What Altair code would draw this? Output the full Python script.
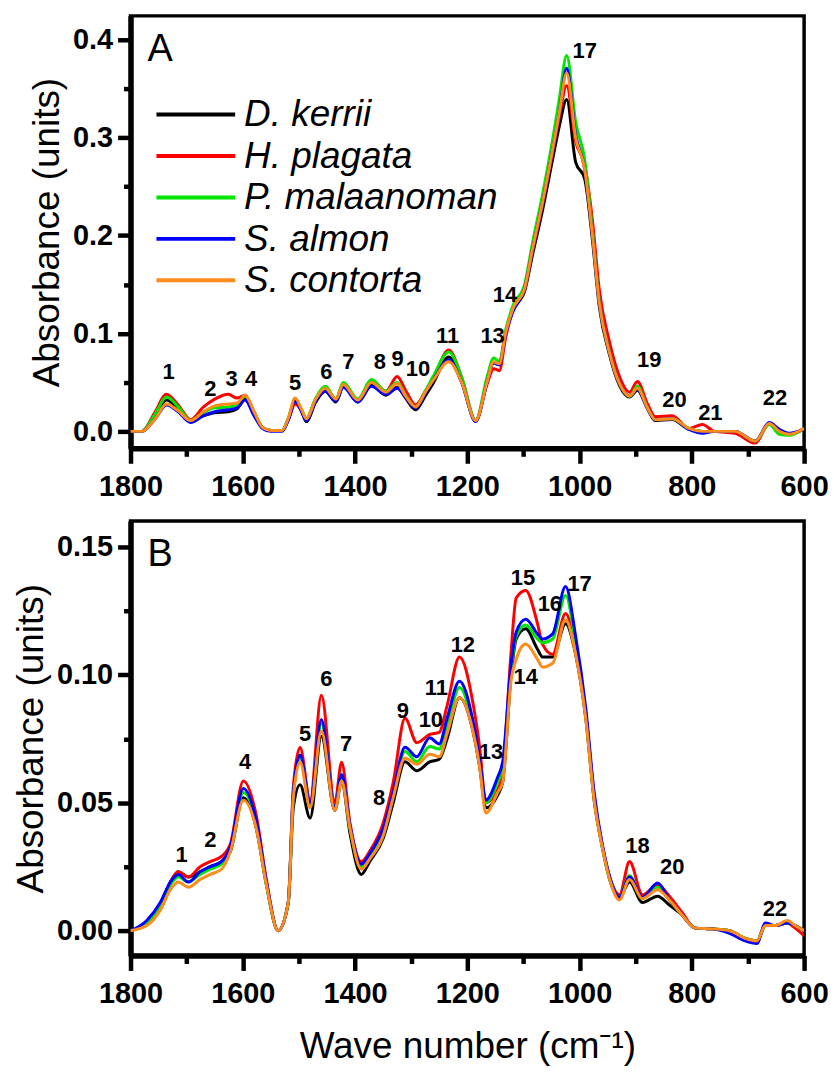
import altair as alt
import pandas as pd

# ---- species and colours -------------------------------------------------
species = ["D. kerrii", "H. plagata", "P. malaanoman", "S. almon", "S. contorta"]
colors = ["#000000", "#ff0000", "#00e600", "#0000ff", "#ff8c1a"]

# ---- panel A: spectra (wave number, absorbance) ----------------------------
wn_a = [1800, 1780, 1756, 1736, 1715, 1693, 1670, 1650, 1626, 1610, 1596, 1580, 1565,
        1550, 1530, 1518, 1507, 1495, 1487, 1470, 1453, 1434, 1421, 1395, 1371, 1345,
        1325, 1310, 1292, 1275, 1261, 1233, 1210, 1185, 1165, 1153, 1143, 1132, 1119,
        1098, 1084, 1066, 1048, 1036, 1023, 1007, 991, 977, 965, 947, 929, 911, 897,
        879, 865, 835, 805, 781, 760, 723, 687, 662, 644, 627, 600]

a_kerrii = [0.000, 0.000, 0.015, 0.032, 0.023, 0.011, 0.016, 0.019, 0.020, 0.023, 0.034,
            0.019, 0.004, 0.001, 0.001, 0.014, 0.031, 0.020, 0.010, 0.030, 0.041, 0.030,
            0.046, 0.030, 0.047, 0.037, 0.045, 0.034, 0.022, 0.036, 0.049, 0.076, 0.050,
            0.011, 0.050, 0.070, 0.068, 0.100, 0.124, 0.143, 0.180, 0.226, 0.278, 0.312,
            0.339, 0.275, 0.258, 0.195, 0.128, 0.079, 0.047, 0.035, 0.042, 0.023, 0.011,
            0.012, 0.002, 0.000, 0.000, 0.000, -0.010, 0.008, 0.000, -0.003, 0.003]
a_plagata = [0.000, 0.000, 0.020, 0.038, 0.027, 0.012, 0.025, 0.033, 0.038, 0.034, 0.037,
             0.020, 0.004, 0.001, 0.001, 0.013, 0.028, 0.021, 0.013, 0.033, 0.045, 0.033,
             0.049, 0.032, 0.052, 0.041, 0.056, 0.042, 0.027, 0.041, 0.054, 0.083, 0.055,
             0.011, 0.048, 0.064, 0.062, 0.095, 0.124, 0.145, 0.184, 0.232, 0.286, 0.322,
             0.353, 0.296, 0.272, 0.215, 0.145, 0.092, 0.056, 0.040, 0.051, 0.028, 0.015,
             0.016, 0.003, 0.007, 0.000, -0.002, -0.012, 0.008, 0.000, -0.003, 0.003]
a_malaanoman = [0.000, 0.000, 0.018, 0.035, 0.025, 0.011, 0.019, 0.024, 0.025, 0.027, 0.036,
                0.020, 0.004, 0.001, 0.001, 0.015, 0.033, 0.022, 0.013, 0.034, 0.046, 0.033,
                0.050, 0.033, 0.053, 0.041, 0.050, 0.037, 0.025, 0.041, 0.056, 0.081, 0.055,
                0.011, 0.055, 0.075, 0.071, 0.103, 0.128, 0.150, 0.192, 0.242, 0.298, 0.340,
                0.384, 0.316, 0.278, 0.205, 0.133, 0.082, 0.049, 0.036, 0.046, 0.024, 0.012,
                0.013, 0.003, 0.000, 0.000, 0.000, -0.010, 0.007, -0.003, -0.004, 0.003]
a_almon = [0.000, 0.000, 0.013, 0.027, 0.020, 0.009, 0.016, 0.020, 0.022, 0.024, 0.032,
           0.016, 0.003, 0.000, 0.000, 0.013, 0.031, 0.020, 0.011, 0.031, 0.041, 0.031,
           0.045, 0.030, 0.046, 0.038, 0.044, 0.035, 0.024, 0.039, 0.052, 0.073, 0.050,
           0.010, 0.050, 0.070, 0.068, 0.099, 0.122, 0.146, 0.186, 0.234, 0.288, 0.326,
           0.371, 0.303, 0.268, 0.200, 0.132, 0.081, 0.049, 0.036, 0.043, 0.024, 0.012,
           0.013, 0.002, -0.002, 0.000, 0.000, -0.010, 0.009, 0.002, -0.002, 0.002]
a_contorta = [0.000, 0.000, 0.013, 0.028, 0.021, 0.011, 0.020, 0.026, 0.028, 0.029, 0.037,
              0.020, 0.004, 0.001, 0.001, 0.015, 0.034, 0.022, 0.013, 0.033, 0.044, 0.033,
              0.048, 0.032, 0.050, 0.040, 0.049, 0.036, 0.025, 0.040, 0.052, 0.071, 0.050,
              0.011, 0.050, 0.071, 0.069, 0.100, 0.125, 0.146, 0.186, 0.234, 0.288, 0.326,
              0.366, 0.300, 0.268, 0.200, 0.132, 0.081, 0.049, 0.036, 0.044, 0.024, 0.012,
              0.013, 0.003, 0.000, 0.000, 0.000, -0.010, 0.008, 0.000, -0.003, 0.003]

# band numbers of panel A (wave number, absorbance at which the number sits)
band_a = ["1", "2", "3", "4", "5", "6", "7", "8", "9", "10", "11", "13", "14", "17",
          "19", "20", "21", "22"]
band_a_wn = [1732, 1658, 1620, 1585, 1507, 1451, 1412, 1356, 1324, 1288, 1235, 1155,
             1133, 991, 876, 831, 767, 652]
band_a_y = [0.061, 0.043, 0.053, 0.053, 0.049, 0.061, 0.071, 0.071, 0.074, 0.064, 0.097,
            0.097, 0.139, 0.389, 0.073, 0.032, 0.019, 0.034]

# ---- panel B: spectra -------------------------------------------------------
wn_b = [1800, 1771, 1747, 1729, 1715, 1697, 1676, 1658, 1638, 1622, 1599, 1576, 1558,
        1537, 1519, 1510, 1498, 1480, 1460, 1436, 1424, 1409, 1389, 1374, 1350, 1332,
        1311, 1290, 1267, 1250, 1236, 1214, 1190, 1178, 1167, 1146, 1137, 1122, 1113,
        1096, 1075, 1066, 1048, 1025, 1007, 989, 974, 959, 945, 929, 911, 888, 861,
        840, 817, 794, 764, 733, 705, 684, 669, 651, 630, 616, 600]

b_kerrii = [0.000, 0.003, 0.010, 0.019, 0.023, 0.021, 0.023, 0.025, 0.027, 0.031,
            0.052, 0.040, 0.018, 0.000, 0.011, 0.048, 0.057, 0.044, 0.076, 0.047,
            0.0585, 0.038, 0.022, 0.027, 0.036, 0.050, 0.066, 0.0625, 0.066, 0.067,
            0.075, 0.091, 0.078, 0.064, 0.048, 0.053, 0.058, 0.100, 0.114, 0.118,
            0.110, 0.107, 0.107, 0.120, 0.108, 0.083, 0.051, 0.032, 0.019, 0.013,
            0.019, 0.011, 0.0135, 0.010, 0.006, 0.001, 0.0007, 0.000, -0.003, -0.004,
            0.002, 0.002, 0.003, 0.002, 0.000]
b_plagata = [0.000, 0.003, 0.010, 0.019, 0.023, 0.021, 0.025, 0.027, 0.029, 0.034,
             0.0585, 0.045, 0.020, 0.000, 0.011, 0.056, 0.0716, 0.051, 0.092, 0.050,
             0.0658, 0.042, 0.027, 0.031, 0.042, 0.058, 0.083, 0.0735, 0.0767, 0.0775,
             0.088, 0.107, 0.089, 0.0716, 0.050, 0.055, 0.062, 0.109, 0.130, 0.133,
             0.120, 0.112, 0.108, 0.124, 0.110, 0.085, 0.052, 0.033, 0.020, 0.014,
             0.027, 0.014, 0.018, 0.0135, 0.007, 0.001, 0.0007, 0.000, -0.003, -0.004,
             0.002, 0.002, 0.003, 0.001, -0.002]
b_malaanoman = [0.000, 0.003, 0.010, 0.018, 0.021, 0.019, 0.022, 0.024, 0.026, 0.032,
                0.054, 0.042, 0.018, 0.000, 0.011, 0.053, 0.068, 0.049, 0.081, 0.048,
                0.060, 0.040, 0.025, 0.029, 0.038, 0.053, 0.070, 0.066, 0.072, 0.071,
                0.080, 0.095, 0.080, 0.066, 0.050, 0.058, 0.064, 0.102, 0.115, 0.1195,
                0.114, 0.1125, 0.114, 0.131, 0.112, 0.084, 0.052, 0.032, 0.019, 0.013,
                0.0215, 0.0125, 0.017, 0.012, 0.006, 0.001, 0.0007, 0.000, -0.003, -0.004,
                0.002, 0.002, 0.003, 0.002, 0.000]
b_almon = [0.000, 0.004, 0.011, 0.019, 0.022, 0.019, 0.023, 0.025, 0.027, 0.033,
           0.0556, 0.043, 0.019, 0.000, 0.011, 0.054, 0.0687, 0.050, 0.0825, 0.048,
           0.061, 0.041, 0.026, 0.030, 0.040, 0.054, 0.0717, 0.068, 0.0754, 0.073,
           0.083, 0.0975, 0.082, 0.067, 0.051, 0.060, 0.066, 0.104, 0.1166, 0.1217,
           0.116, 0.114, 0.116, 0.1345, 0.115, 0.087, 0.054, 0.033, 0.020, 0.013,
           0.021, 0.013, 0.0186, 0.012, 0.006, 0.001, 0.0007, -0.001, -0.004, -0.005,
           0.003, 0.002, 0.003, 0.002, 0.000]
b_contorta = [0.000, 0.002, 0.008, 0.016, 0.019, 0.017, 0.020, 0.022, 0.024, 0.031,
              0.051, 0.040, 0.018, 0.000, 0.011, 0.052, 0.066, 0.048, 0.078, 0.047,
              0.0585, 0.040, 0.024, 0.028, 0.037, 0.052, 0.0675, 0.065, 0.069, 0.068,
              0.077, 0.091, 0.078, 0.064, 0.046, 0.054, 0.058, 0.098, 0.106, 0.112,
              0.106, 0.103, 0.1045, 0.1215, 0.108, 0.083, 0.051, 0.032, 0.019, 0.012,
              0.020, 0.0125, 0.016, 0.012, 0.006, 0.001, 0.0007, 0.000, -0.003, -0.004,
              0.002, 0.002, 0.004, 0.002, 0.000]

band_b = ["1", "2", "4", "5", "6", "7", "8", "9", "10", "11", "12", "13", "14", "15",
          "16", "17", "18", "20", "22"]
band_b_wn = [1709, 1658, 1596, 1489, 1451, 1416, 1357, 1315, 1265, 1255, 1208, 1158,
             1096, 1101, 1053, 1000, 897, 835, 652]
band_b_y = [0.0295, 0.0353, 0.0658, 0.0767, 0.0984, 0.073, 0.052, 0.086, 0.0825, 0.0948,
            0.1115, 0.070, 0.099, 0.138, 0.1275, 0.1355, 0.033, 0.025, 0.0084]

# axis ticks: major ticks carry labels, minor ticks sit halfway between them
x_ticks = list(range(600, 1801, 100))
y_ticks_a = [0.0, 0.05, 0.1, 0.15, 0.2, 0.25, 0.3, 0.35, 0.4]
y_ticks_b = [0.0, 0.025, 0.05, 0.075, 0.1, 0.125, 0.15]

FONT = "Liberation Sans"
W = 676
LABEL_SIZE = 29
TITLE_SIZE = 37


def x_axis(title):
    kw = dict(
        values=x_ticks,
        labelExpr="datum.value % 200 === 0 ? format(datum.value, 'd') : ''",
        tickSize={"condition": {"test": "datum.value % 200 === 0", "value": 15}, "value": 8},
        tickWidth=4.5, tickColor="black", grid=False,
        domain=True, domainColor="black", domainWidth=5.5,
        labelFont=FONT, labelFontSize=LABEL_SIZE, labelFontWeight="bold", labelColor="black",
        labelPadding=9, labelFlush=False, labelOverlap=False,
    )
    if title:
        kw.update(title=title, titleFont=FONT, titleFontSize=TITLE_SIZE,
                  titleFontWeight="normal", titleColor="black", titlePadding=20)
    else:
        kw.update(title=None)
    return alt.Axis(**kw)


def y_axis(values, major, fmt):
    test = f"abs(datum.value / {major} - round(datum.value / {major})) < 0.001"
    return alt.Axis(
        values=values,
        labelExpr=f"{test} ? format(datum.value, '{fmt}') : ''",
        tickSize={"condition": {"test": test, "value": 13}, "value": 7},
        tickWidth=4.5, tickColor="black", grid=False,
        domain=True, domainColor="black", domainWidth=5.5,
        labelFont=FONT, labelFontSize=LABEL_SIZE, labelFontWeight="bold", labelColor="black",
        labelPadding=5, labelFlush=False, labelOverlap=False,
        title="Absorbance (units)", titleFont=FONT, titleFontSize=TITLE_SIZE,
        titleFontWeight="normal", titleColor="black", titlePadding=6,
    )


def panel(wn, series, bands, band_wn, band_y, ydom, yaxis, xtitle, letter, legend, height):
    xs = alt.Scale(domain=[600, 1800], reverse=True, nice=False, zero=False)
    ys = alt.Scale(domain=ydom, nice=False, zero=False)
    layers = []
    for sp, col, vals in zip(species, colors, series):
        df = pd.DataFrame({"wn": wn, "absorbance": vals, "species": sp})
        layers.append(
            alt.Chart(df).mark_line(color=col, strokeWidth=3, interpolate="monotone", clip=True)
            .encode(x=alt.X("wn:Q", scale=xs, axis=x_axis(xtitle)),
                    y=alt.Y("absorbance:Q", scale=ys, axis=yaxis),
                    order=alt.Order("wn:Q", sort="descending"))
        )
    bdf = pd.DataFrame({"wn": band_wn, "absorbance": band_y, "band": bands})
    layers.append(
        alt.Chart(bdf).mark_text(font=FONT, fontSize=22, fontWeight="bold", color="black",
                                 align="center", baseline="middle")
        .encode(x="wn:Q", y="absorbance:Q", text="band:N")
    )
    ldf = pd.DataFrame({"letter": [letter]})
    layers.append(
        alt.Chart(ldf).mark_text(font=FONT, fontSize=38, color="black", align="left",
                                 baseline="middle")
        .encode(x=alt.value(17), y=alt.value(34), text="letter:N")
    )
    if legend:
        for i, (sp, col) in enumerate(zip(species, colors)):
            yy = 99 + 41.6 * i
            sdf = pd.DataFrame({"species": [sp]})
            layers.append(
                alt.Chart(sdf).mark_rule(color=col, strokeWidth=4)
                .encode(x=alt.value(26), x2=alt.value(105), y=alt.value(yy))
            )
            layers.append(
                alt.Chart(sdf).mark_text(font=FONT, fontSize=37, fontStyle="italic",
                                         color="black", align="left", baseline="middle")
                .encode(x=alt.value(114), y=alt.value(yy + 1), text="species:N")
            )
    return alt.layer(*layers).properties(width=W, height=height)


panel_a = panel(wn_a, [a_kerrii, a_plagata, a_malaanoman, a_almon, a_contorta],
                band_a, band_a_wn, band_a_y, [-0.0173, 0.4244],
                y_axis(y_ticks_a, 0.1, ".1f"), None, "A", True, 434)
panel_b = panel(wn_b, [b_kerrii, b_plagata, b_malaanoman, b_almon, b_contorta],
                band_b, band_b_wn, band_b_y, [-0.0097, 0.1601],
                y_axis(y_ticks_b, 0.05, ".2f"), "Wave number (cm\u207b\u00b9)", "B", False, 436)

chart = (
    alt.vconcat(panel_a, panel_b, spacing=16)
    .properties(padding={"left": 10, "top": 12, "right": 4, "bottom": 4}, background="white")
    .configure(font=FONT)
    .configure_view(stroke="black", strokeWidth=3.5)
)

chart.save("out.html", embed_options={"renderer": "svg", "actions": False})
